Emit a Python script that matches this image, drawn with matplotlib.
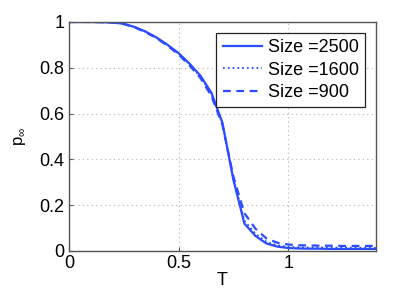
import matplotlib
matplotlib.use("Agg")
import matplotlib.pyplot as plt

plt.rcParams['font.family'] = ['Liberation Sans', 'DejaVu Sans']
plt.rcParams['mathtext.fontset'] = 'custom'
plt.rcParams['mathtext.rm'] = 'Liberation Sans'

# temperature grid and order parameter for each lattice size
T = [0.0, 0.05, 0.1, 0.15, 0.2, 0.25, 0.3, 0.35, 0.4, 0.45, 0.5, 0.55, 0.6, 0.65,
     0.7, 0.75, 0.8, 0.85, 0.9, 0.95, 1.0, 1.05, 1.1, 1.15, 1.2, 1.25, 1.3, 1.35, 1.4]
p_2500 = [1.0, 1.0, 1.0, 0.999, 0.998, 0.992, 0.978, 0.958, 0.932, 0.900, 0.864, 0.818,
          0.765, 0.690, 0.560, 0.310, 0.120, 0.066, 0.033, 0.019, 0.013, 0.011, 0.010,
          0.010, 0.009, 0.009, 0.009, 0.009, 0.009]
p_1600 = [1.0, 1.0, 1.0, 0.999, 0.998, 0.992, 0.978, 0.957, 0.931, 0.899, 0.862, 0.815,
          0.762, 0.684, 0.555, 0.315, 0.132, 0.076, 0.040, 0.025, 0.018, 0.016, 0.015,
          0.015, 0.015, 0.015, 0.014, 0.014, 0.014]
p_900 = [1.0, 1.0, 1.0, 0.999, 0.997, 0.991, 0.976, 0.955, 0.929, 0.896, 0.858, 0.810,
         0.755, 0.676, 0.550, 0.325, 0.165, 0.098, 0.055, 0.036, 0.028, 0.025, 0.024,
         0.023, 0.023, 0.022, 0.022, 0.022, 0.022]
labels = ['Size =2500', 'Size =1600', 'Size =900']

blue = '#2b4cff'

fig = plt.figure(figsize=(4.15, 2.91), dpi=100)
ax = fig.add_axes([0.166, 0.1375, 0.740, 0.787])

ax.plot(T, p_2500, color=blue, lw=1.6, ls='-', label=labels[0])
ax.plot(T, p_1600, color=blue, lw=1.3, ls=':', label=labels[1])
ax.plot(T, p_900, color=blue, lw=1.6, ls='--', dashes=(3.5, 2.5), label=labels[2])

ax.set_xlim(0, 1.4)
ax.set_ylim(0, 1)
ax.set_xticks([0, 0.5, 1])
ax.set_xticklabels(['0', '0.5', '1'])
ax.set_yticks([0, 0.2, 0.4, 0.6, 0.8, 1])
ax.set_yticklabels(['0', '0.2', '0.4', '0.6', '0.8', '1'])
ax.tick_params(direction='in', labelsize=13, length=3, color='#555555', pad=3)
ax.grid(True, ls=(0, (1, 3)), color='#b0b0b0', lw=0.8)
for s in ax.spines.values():
    s.set_color('#555555')
    s.set_linewidth(1.0)

ax.set_xlabel('T', fontsize=13, labelpad=0)
ax.set_ylabel(r'p$_\infty$', fontsize=12, labelpad=8)

leg = ax.legend(loc='upper right', fontsize=13, fancybox=False, edgecolor='#222222',
                framealpha=1, handlelength=2.2, borderpad=0.35, labelspacing=0.3,
                handletextpad=0.3, borderaxespad=0.6)
leg.get_frame().set_linewidth(0.9)

fig.savefig('out.png', dpi=100)
